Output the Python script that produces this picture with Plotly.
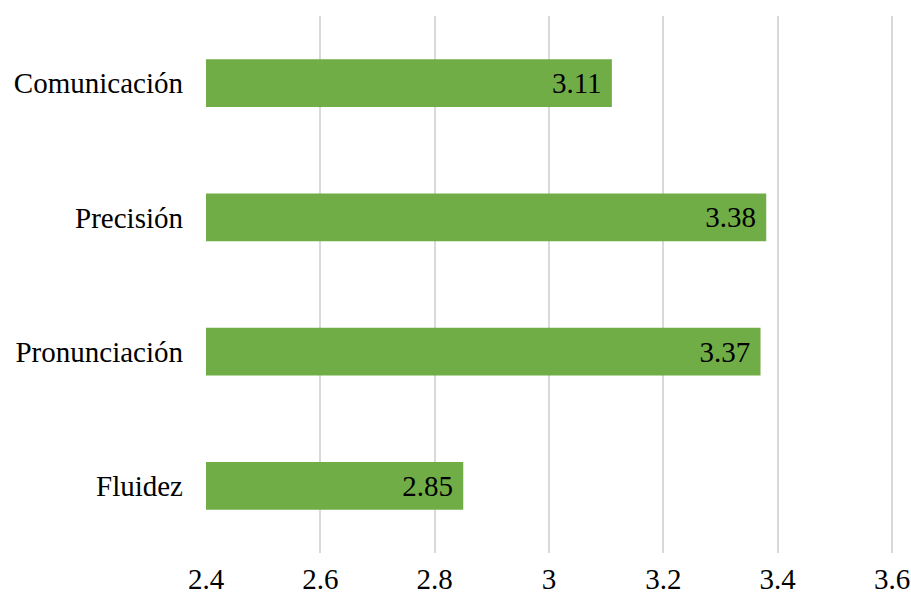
import plotly.graph_objects as go

categories = ["Comunicación", "Precisión", "Pronunciación", "Fluidez"]
values = [3.11, 3.38, 3.37, 2.85]
axis_min = 2.4
tick_vals = [2.4, 2.6, 2.8, 3.0, 3.2, 3.4, 3.6]
tick_text = ["2.4", "2.6", "2.8", "3", "3.2", "3.4", "3.6"]

font_family = "Liberation Serif, Times New Roman, serif"
fs = 29

fig = go.Figure(go.Bar(
    y=categories,
    x=[v - axis_min for v in values],
    base=axis_min,
    orientation="h",
    marker=dict(color="#70AD47", line=dict(width=0)),
    width=0.357,
    text=[f"{v:.2f} " for v in values],
    textposition="inside",
    insidetextanchor="end",
    insidetextfont=dict(family=font_family, size=fs, color="black"),
    constraintext="none",
    cliponaxis=False,
))

fig.update_layout(
    width=911, height=601,
    margin=dict(l=206, r=15, t=16, b=48, autoexpand=False),
    plot_bgcolor="white", paper_bgcolor="white",
    showlegend=False,
    font=dict(family=font_family, size=fs, color="black"),
    uniformtext=dict(minsize=fs, mode="show"),
)
fig.update_xaxes(
    range=[2.4, 3.607],
    tickvals=tick_vals, ticktext=tick_text,
    showgrid=True, gridcolor="#d9d9d9", gridwidth=2,
    zeroline=False, showline=False, ticks="",
    tickfont=dict(family=font_family, size=fs, color="black"),
    ticklabelstandoff=6, automargin=False,
)
fig.update_yaxes(
    categoryorder="array", categoryarray=categories[::-1],
    showgrid=False, zeroline=False, showline=False, ticks="",
    tickfont=dict(family=font_family, size=fs, color="black"),
    ticklabelstandoff=22, automargin=False,
)

fig.write_html("out.html")
